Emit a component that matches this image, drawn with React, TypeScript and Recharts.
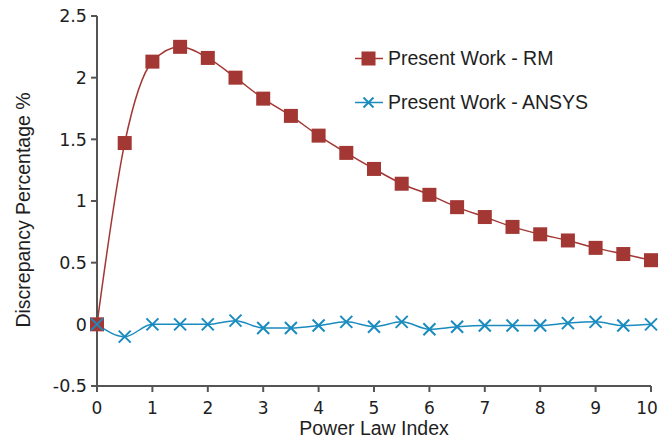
import { LineChart, Line, XAxis, YAxis } from "recharts";

const powerIndex = [0, 0.5, 1, 1.5, 2, 2.5, 3, 3.5, 4, 4.5, 5, 5.5, 6, 6.5, 7, 7.5, 8, 8.5, 9, 9.5, 10];
const rmValues = [0, 1.47, 2.13, 2.25, 2.16, 2.0, 1.83, 1.69, 1.53, 1.39, 1.26, 1.14, 1.05, 0.95, 0.87, 0.79, 0.73, 0.68, 0.62, 0.57, 0.52];
const ansysValues = [0, -0.1, 0, 0, 0, 0.03, -0.03, -0.03, -0.01, 0.02, -0.02, 0.02, -0.04, -0.02, -0.01, -0.01, -0.01, 0.01, 0.02, -0.01, 0];
const xTicks = [0, 1, 2, 3, 4, 5, 6, 7, 8, 9, 10];
const yTicks = [-0.5, 0, 0.5, 1, 1.5, 2, 2.5];

const data = powerIndex.map((x, i) => ({ x, rm: rmValues[i], ansys: ansysValues[i] }));

const RED = "#a33734";
const BLUE = "#1a8bbf";
const AXIS = "#555555";
const TEXT = "#1e1e1e";
const LABEL_FONT = "'Liberation Sans', Arial, sans-serif";
const TICK_FONT = "'DejaVu Sans', sans-serif";

const SquareDot = (props: any) => {
  const { cx, cy } = props;
  if (cx == null || cy == null) return null;
  return <rect x={cx - 7} y={cy - 7} width={14} height={14} fill={RED} />;
};

const CrossDot = (props: any) => {
  const { cx, cy } = props;
  if (cx == null || cy == null) return null;
  return (
    <g stroke={BLUE} strokeWidth={2}>
      <line x1={cx - 6} y1={cy - 6} x2={cx + 6} y2={cy + 6} />
      <line x1={cx - 6} y1={cy + 6} x2={cx + 6} y2={cy - 6} />
    </g>
  );
};

// legend drawn as an overlay so it takes no room from the plot
const LegendBox = () => (
  <svg
    width={300}
    height={90}
    style={{ position: "absolute", left: 355, top: 30, overflow: "visible" }}
  >
    <line x1={0} y1={28.5} x2={28} y2={28.5} stroke={RED} strokeWidth={1.5} />
    <rect x={6.5} y={21.5} width={14} height={14} fill={RED} />
    <text x={33} y={35} fontSize={19.5} fontFamily={LABEL_FONT} fill={TEXT}>
      Present Work - RM
    </text>
    <line x1={0} y1={72.5} x2={28} y2={72.5} stroke={BLUE} strokeWidth={1.5} />
    <g stroke={BLUE} strokeWidth={2}>
      <line x1={8.5} y1={67.5} x2={18.5} y2={77.5} />
      <line x1={8.5} y1={77.5} x2={18.5} y2={67.5} />
    </g>
    <text x={33} y={79} fontSize={19.5} fontFamily={LABEL_FONT} fill={TEXT}>
      Present Work - ANSYS
    </text>
  </svg>
);

// x tick: keep the last label inside the 660px frame
const XTick = (props: any) => {
  const { x, y, payload } = props;
  const right = x + 11;
  const shift = right > 658 ? 658 - right : 0;
  return (
    <text x={x + shift} y={y} dy="0.71em" textAnchor="middle" fontSize={17} fontFamily={TICK_FONT} fill={TEXT}>
      {String(payload.value)}
    </text>
  );
};

const fmt = (v: number) => String(v);

const XLabel = (props: any) => {
  const vb = props.viewBox;
  return (
    <text x={vb.x + vb.width / 2} y={vb.y + 49} textAnchor="middle" fontSize={19.5} fontFamily={LABEL_FONT} fill={TEXT}>
      Power Law Index
    </text>
  );
};

const YLabel = () => (
  <text
    x={30}
    y={210}
    transform="rotate(-90 30 210)"
    textAnchor="middle"
    fontSize={19.5}
    fontFamily={LABEL_FONT}
    fill={TEXT}
  >
    Discrepancy Percentage %
  </text>
);

const App = () => {
  return (
    <div style={{ position: "absolute", left: 0, top: 0, width: 660, height: 438, background: "#fff" }}>
      <LineChart
        width={660}
        height={438}
        data={data}
        margin={{ top: 16, right: 9, left: 0, bottom: 0 }}
      >
        <XAxis
          dataKey="x"
          type="number"
          domain={[0, 10]}
          ticks={xTicks}
          height={52}
          stroke={AXIS}
          strokeWidth={2}
          tickSize={6}
          tickMargin={10}
          tick={<XTick />}
          label={<XLabel />}
        />
        <YAxis
          type="number"
          domain={[-0.5, 2.5]}
          ticks={yTicks}
          tickFormatter={fmt}
          width={97}
          stroke={AXIS}
          strokeWidth={2}
          tickSize={6}
          tickMargin={4}
          tick={{ fill: TEXT, fontSize: 17.5, fontFamily: TICK_FONT }}
          label={<YLabel />}
        />
        <Line
          type="monotone"
          dataKey="rm"
          name="Present Work - RM"
          stroke={RED}
          strokeWidth={1.5}
          dot={<SquareDot />}
          activeDot={false}
          isAnimationActive={false}
        />
        <Line
          type="monotone"
          dataKey="ansys"
          name="Present Work - ANSYS"
          stroke={BLUE}
          strokeWidth={1.5}
          dot={<CrossDot />}
          activeDot={false}
          isAnimationActive={false}
        />
      </LineChart>
      <LegendBox />
    </div>
  );
};

export default App;
